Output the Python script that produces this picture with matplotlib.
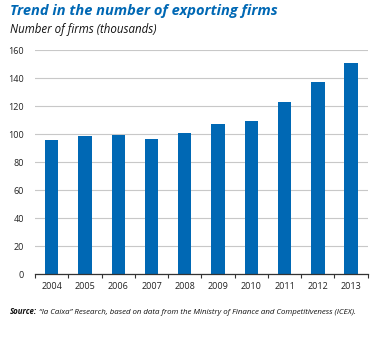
import matplotlib.pyplot as plt
import numpy as np

years = ["2004", "2005", "2006", "2007", "2008", "2009", "2010", "2011", "2012", "2013"]
firms = [96.2, 98.9, 99.8, 97.0, 101.2, 107.2, 109.3, 122.9, 137.1, 150.7]
y_ticks = [0, 20, 40, 60, 80, 100, 120, 140, 160]

blue = "#0068b4"
plt.rcParams['font.family'] = ['Open Sans', 'DejaVu Sans']

fig = plt.figure(figsize=(3.75, 3.38), dpi=100)
ax = fig.add_axes([0.0933, 0.1893, 0.8874, 0.6613])

x = np.arange(len(years))
ax.bar(x, firms, width=0.4, color=blue, zorder=3)

ax.set_xlim(-0.5, len(years) - 0.5)
ax.set_ylim(0, 160)
ax.set_yticks(y_ticks)
ax.set_yticklabels([str(v) for v in y_ticks], fontsize=6.5, color="#222222")
ax.yaxis.grid(True, color="#c8c8c8", linewidth=0.8, zorder=0)
ax.tick_params(axis="y", length=0, pad=8)

ax.set_xticks(x)
ax.set_xticklabels(years, fontsize=6.5, color="#222222")
ax.set_xticks(np.arange(-0.5, len(years)), minor=True)
ax.tick_params(axis="x", which="major", length=0, pad=6)
ax.tick_params(axis="x", which="minor", length=3, width=0.8, color="#333333", direction="out")

for side in ["top", "right", "left"]:
    ax.spines[side].set_visible(False)
ax.spines["bottom"].set_color("#333333")
ax.spines["bottom"].set_linewidth(0.9)
ax.spines["bottom"].set_zorder(4)

fig.text(0.027, 0.955, "Trend in the number of exporting firms", fontsize=10.5,
         fontweight="bold", fontstyle="italic", color=blue, va="baseline")
fig.text(0.027, 0.903, "Number of firms (thousands)", fontsize=8.3,
         fontstyle="italic", color="#111111", va="baseline")

src_label = fig.text(0.027, 0.071, "Source:", fontsize=5.7, fontweight="bold",
                     fontstyle="italic", color="#111111", va="baseline")
fig.canvas.draw()
bb = src_label.get_window_extent(renderer=fig.canvas.get_renderer())
x_next = (bb.x1 + 2) / fig.bbox.width
fig.text(x_next, 0.071,
         "\u201cla Caixa\u201d Research, based on data from the Ministry of Finance and Competitiveness (ICEX).",
         fontsize=5.7, fontstyle="italic", color="#111111", va="baseline")

fig.savefig("out.png", dpi=100)
